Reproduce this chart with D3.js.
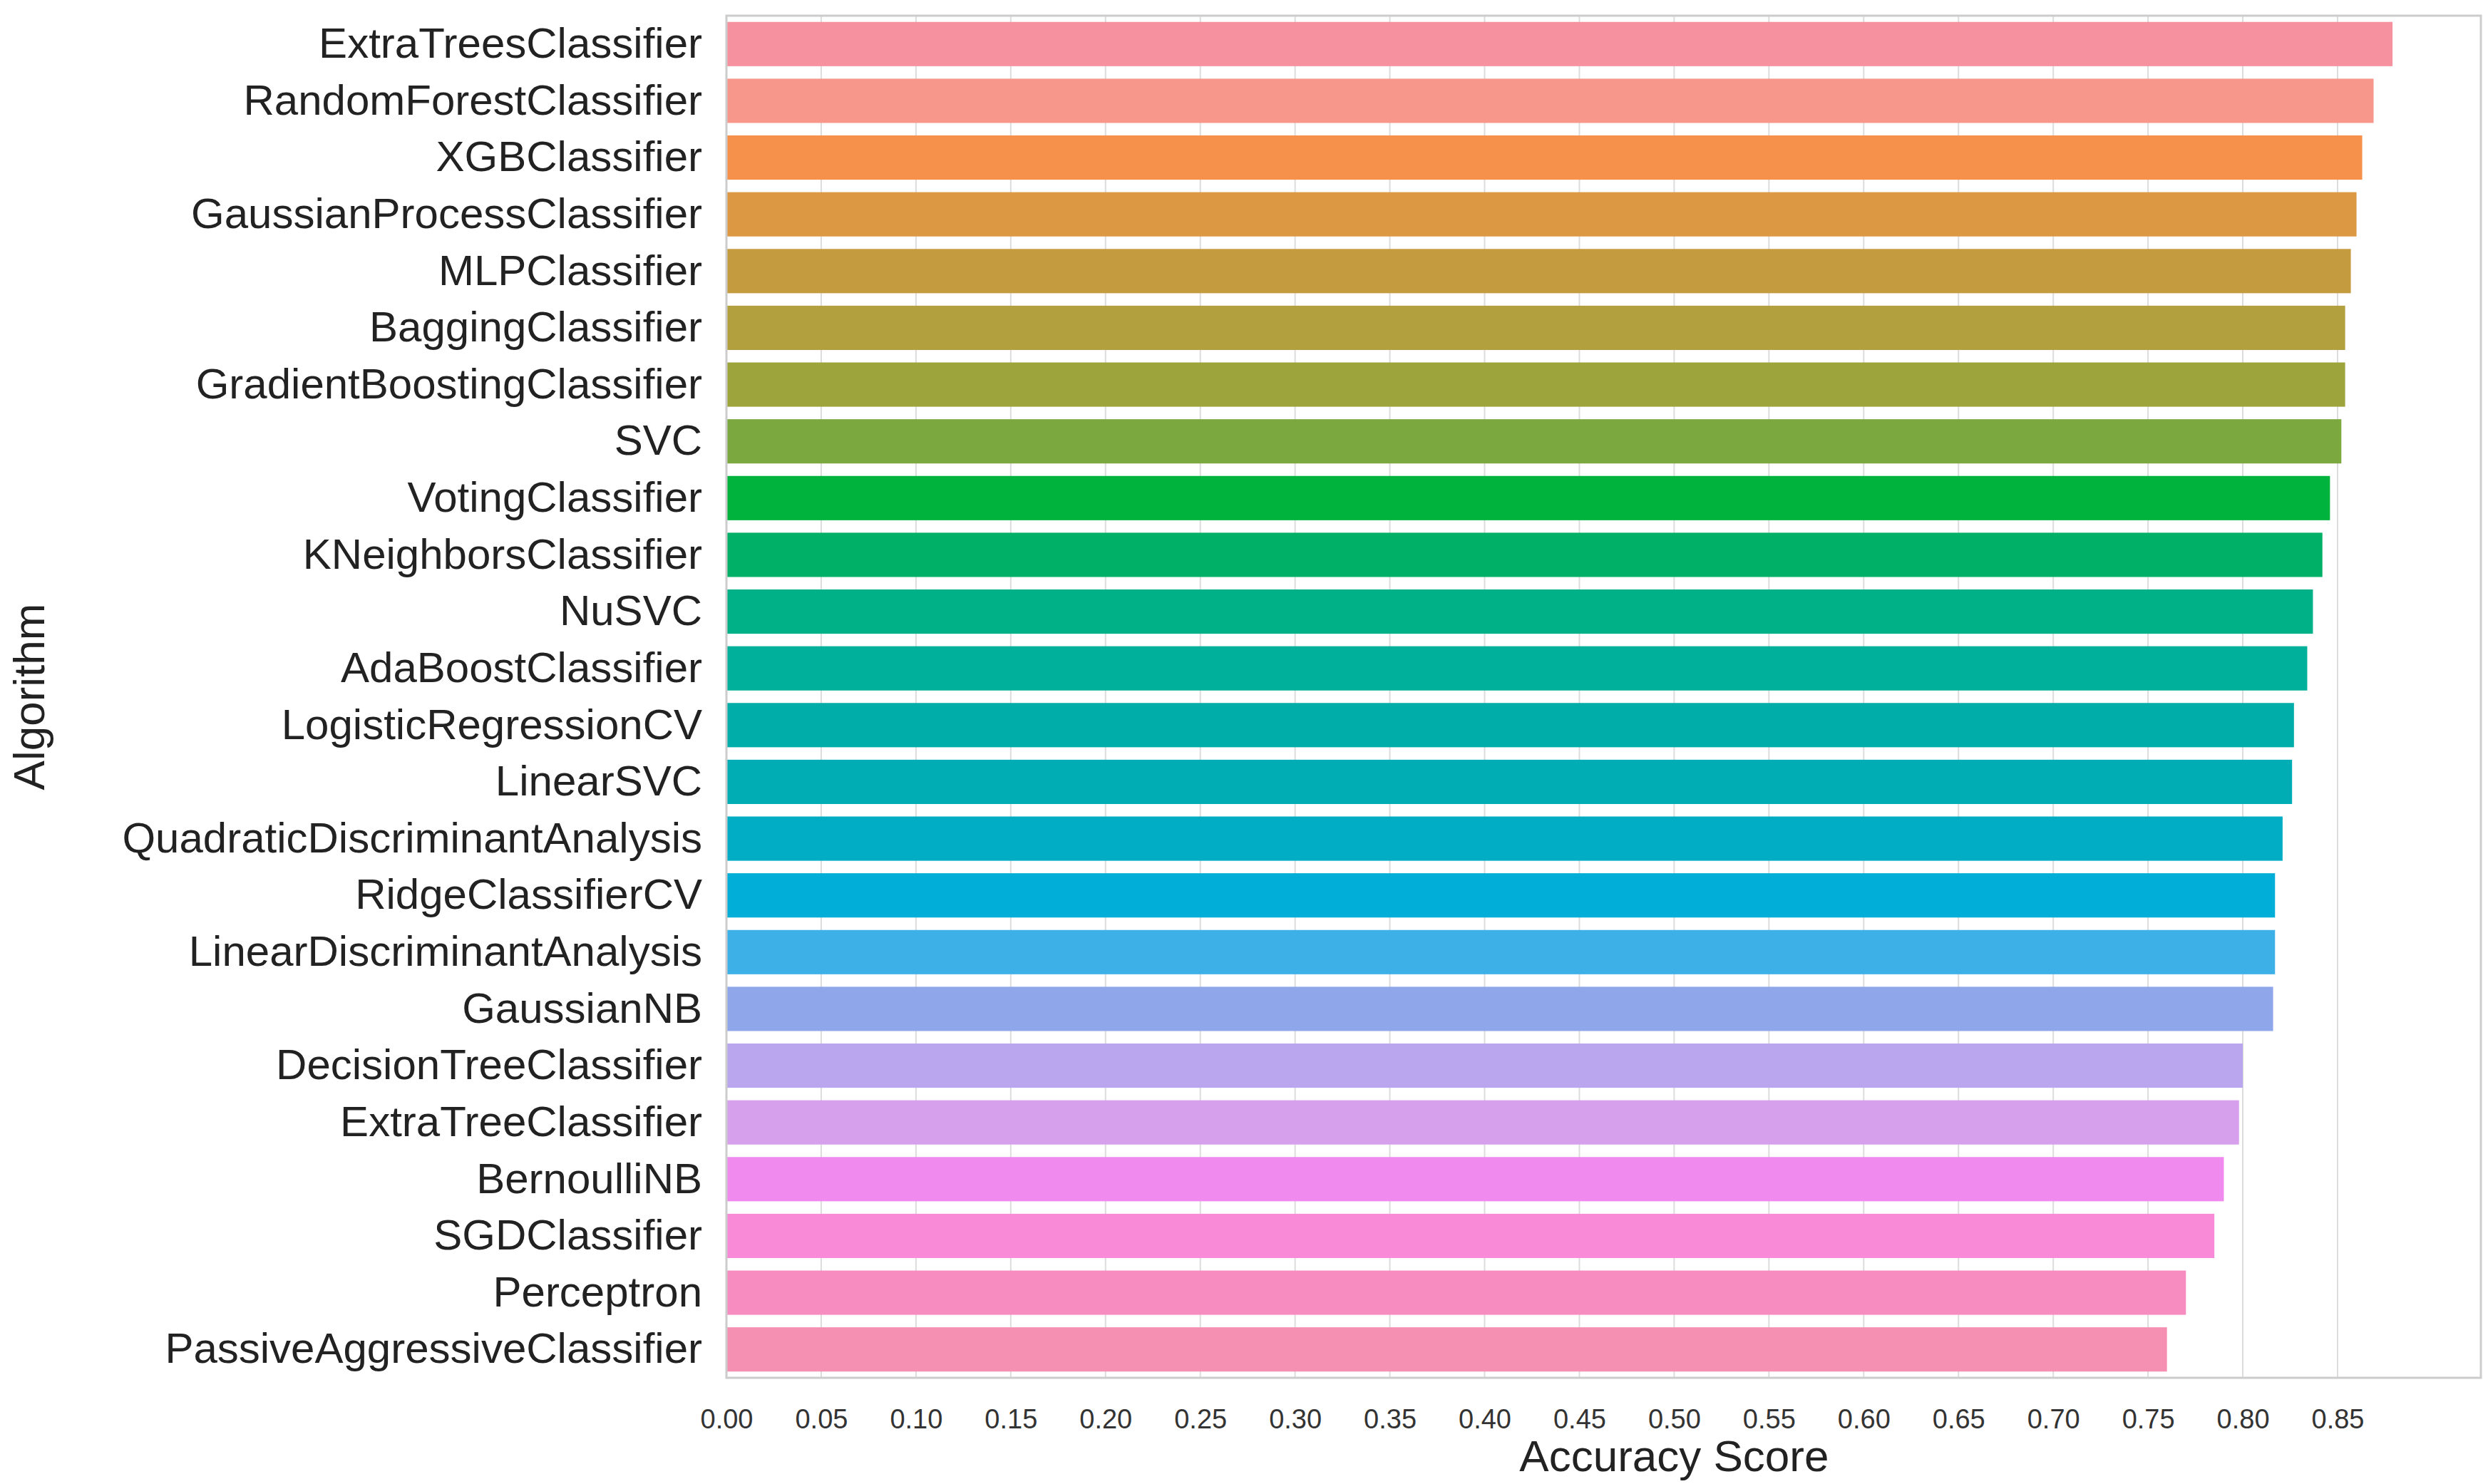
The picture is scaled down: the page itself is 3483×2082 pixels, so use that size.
<!DOCTYPE html>
<html><head><meta charset="utf-8">
<script src="https://cdn.jsdelivr.net/npm/d3@7"></script>
<style>body{margin:0;background:#fff}text{font-family:"Liberation Sans",Arial,sans-serif}</style>
</head><body><svg id="c" width="3483" height="2082"></svg>
<script>
const algorithms = ["ExtraTreesClassifier","RandomForestClassifier","XGBClassifier","GaussianProcessClassifier","MLPClassifier","BaggingClassifier","GradientBoostingClassifier","SVC","VotingClassifier","KNeighborsClassifier","NuSVC","AdaBoostClassifier","LogisticRegressionCV","LinearSVC","QuadraticDiscriminantAnalysis","RidgeClassifierCV","LinearDiscriminantAnalysis","GaussianNB","DecisionTreeClassifier","ExtraTreeClassifier","BernoulliNB","SGDClassifier","Perceptron","PassiveAggressiveClassifier"];
const scores = [0.879,0.869,0.863,0.860,0.857,0.854,0.854,0.852,0.846,0.842,0.837,0.834,0.827,0.826,0.821,0.817,0.817,0.816,0.800,0.798,0.790,0.785,0.770,0.760];
const colors = ["#f6929f","#f7968a","#f5914a","#dd9844","#c59b3f","#b1a03d","#9ea43c","#7ca93f","#00b33d","#00b067","#00b086","#00b09b","#00ada9","#00adb5","#00adc5","#00aed7","#3eb0e8","#8fa6eb","#baa5ef","#d7a0ed","#f18aee","#f88ad8","#f78cc1","#f690b3"];
const ticks = d3.range(0, 0.851, 0.05);

const m = {left:1019, right:3480, top:22, bottom:1933};
const svg = d3.select("#c");
const x = d3.scaleLinear().domain([0, 0.9256]).range([m.left, m.right]);
const y = d3.scaleBand().domain(algorithms).range([m.top, m.bottom]).paddingInner(0.22).paddingOuter(0.11);

svg.append("g").selectAll("line").data(ticks).join("line")
  .attr("x1", d => x(d)).attr("x2", d => x(d)).attr("y1", m.top).attr("y2", m.bottom)
  .attr("stroke", "#dcdcdc").attr("stroke-width", 2);

svg.append("g").selectAll("rect").data(algorithms).join("rect")
  .attr("x", x(0)).attr("y", d => y(d)).attr("height", y.bandwidth())
  .attr("width", (d, i) => x(scores[i]) - x(0)).attr("fill", (d, i) => colors[i]);

svg.append("rect").attr("x", m.left).attr("y", m.top).attr("width", m.right - m.left).attr("height", m.bottom - m.top)
  .attr("fill", "none").attr("stroke", "#cccccc").attr("stroke-width", 3);

const xa = svg.append("g").attr("transform", `translate(0,${m.bottom})`)
  .call(d3.axisBottom(x).tickValues(ticks).tickFormat(d3.format(".2f")).tickSize(0).tickPadding(44));
xa.select(".domain").remove();
xa.selectAll("text").attr("font-size", 38).attr("fill", "#333");

const ya = svg.append("g").attr("transform", `translate(${m.left},0)`)
  .call(d3.axisLeft(y).tickSize(0).tickPadding(34));
ya.select(".domain").remove();
ya.selectAll("text").attr("font-size", 60).attr("fill", "#222");

svg.append("text").attr("x", x(0.5)).attr("y", 2064).attr("text-anchor", "middle")
  .attr("font-size", 62).attr("fill", "#222").text("Accuracy Score");
svg.append("text").attr("transform", `translate(62,${(m.top + m.bottom) / 2}) rotate(-90)`)
  .attr("text-anchor", "middle").attr("font-size", 62).attr("fill", "#222").text("Algorithm");
</script></body></html>
